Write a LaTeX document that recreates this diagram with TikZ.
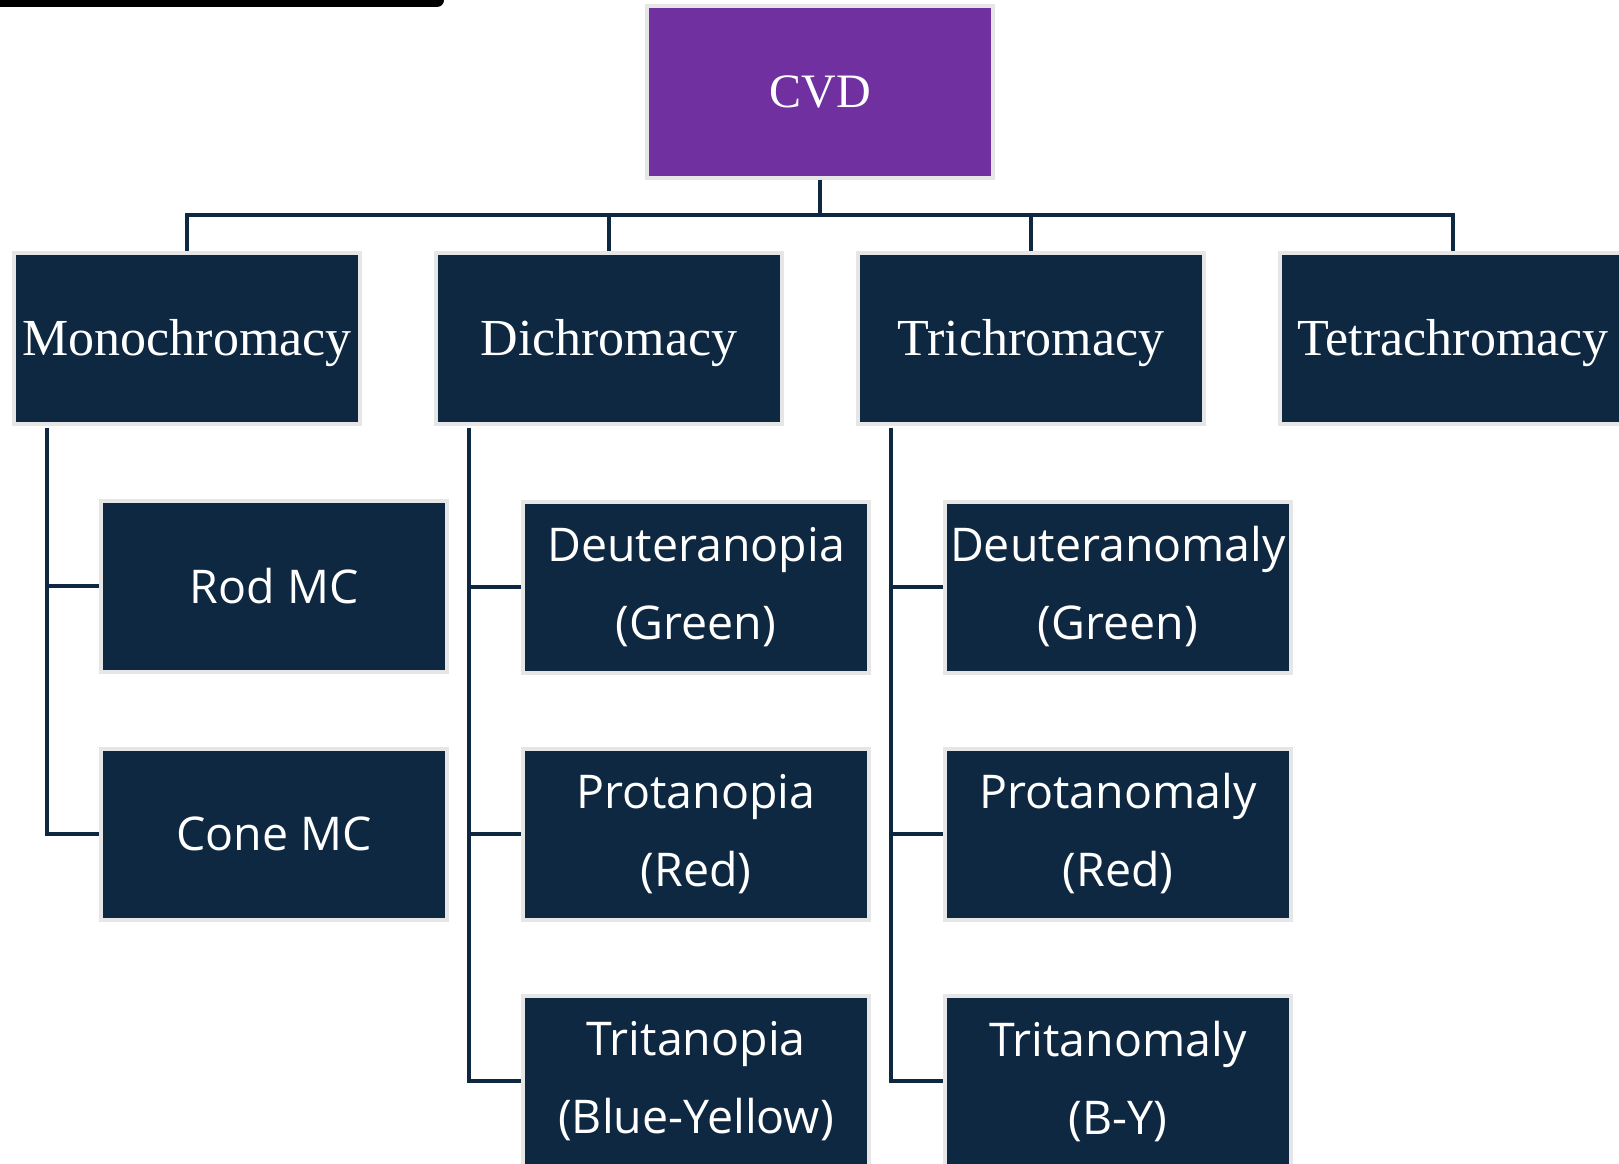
\documentclass[tikz,border=0pt]{standalone}
\usepackage{fontspec}
\setmainfont{Liberation Serif}
\newfontfamily\boxsans{Open Sans}
\definecolor{navy}{HTML}{0E2841}
\definecolor{cvdpurple}{HTML}{7030A0}
\definecolor{edgegray}{HTML}{E6E6E6}
\tikzset{
  basebox/.style={draw=edgegray, line width=4pt, minimum width=346pt, minimum height=171pt, inner sep=0pt, text=white, align=center},
  topbox/.style={basebox, fill=cvdpurple, font=\fontsize{48}{58}\selectfont},
  lvlbox/.style={basebox, fill=navy, font=\fontsize{52}{62}\selectfont, text height=50pt, text depth=16pt},
  subbox/.style={basebox, fill=navy, font=\boxsans\fontsize{46.5}{78}\selectfont},
  conn/.style={draw=navy, line width=3.5pt}
}
\begin{document}
\begin{tikzpicture}[x=1pt,y=-1pt]
\useasboundingbox (0,0) rectangle (1619,1164);
\clip (0,0) rectangle (1619,1164);
\fill[white] (0,0) rectangle (1619,1164);
\fill[black, rounded corners=7pt] (-20,-20) rectangle (444,7);

\node[topbox] (cvd) at (820,92) {CVD};
\node[lvlbox] (mono) at (187,338) {Monochromacy};
\node[lvlbox] (dich) at (609,338) {Dichromacy};
\node[lvlbox] (tri) at (1031,338) {Trichromacy};
\node[lvlbox] (tetra) at (1453,338) {Tetrachromacy};

\node[subbox] (rod) at (274,586) {Rod MC};
\node[subbox] (cone) at (274,834) {Cone MC};
\node[subbox] (deutp) at (696,587) {Deuteranopia\\(Green)};
\node[subbox] (protp) at (696,834) {Protanopia\\(Red)};
\node[subbox] (tritp) at (696,1081) {Tritanopia\\(Blue-Yellow)};
\node[subbox] (deuta) at (1118,587) {Deuteranomaly\\(Green)};
\node[subbox] (prota) at (1118,834) {Protanomaly\\(Red)};
\node[subbox] (trita) at (1118,1081) {Tritanomaly\\(B-Y)};

\coordinate (bus) at (820,215);
\draw[conn] (cvd.south) -- (bus) -| (mono.north);
\draw[conn] (cvd.south) -- (bus) -| (dich.north);
\draw[conn] (cvd.south) -- (bus) -| (tri.north);
\draw[conn] (cvd.south) -- (bus) -| (tetra.north);

\draw[conn] ([xshift=35pt,yshift=-2pt]mono.south west) |- (rod.west);
\draw[conn] ([xshift=35pt,yshift=-2pt]mono.south west) |- (cone.west);
\draw[conn] ([xshift=35pt,yshift=-2pt]dich.south west) |- (deutp.west);
\draw[conn] ([xshift=35pt,yshift=-2pt]dich.south west) |- (protp.west);
\draw[conn] ([xshift=35pt,yshift=-2pt]dich.south west) |- (tritp.west);
\draw[conn] ([xshift=35pt,yshift=-2pt]tri.south west) |- (deuta.west);
\draw[conn] ([xshift=35pt,yshift=-2pt]tri.south west) |- (prota.west);
\draw[conn] ([xshift=35pt,yshift=-2pt]tri.south west) |- (trita.west);
\end{tikzpicture}
\end{document}
